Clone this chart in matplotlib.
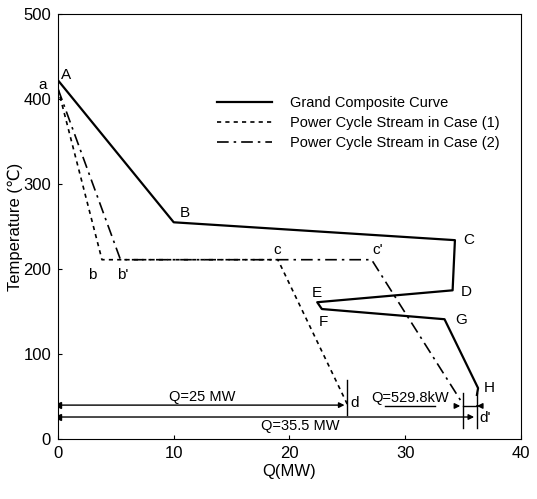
import matplotlib
matplotlib.use('Agg')
import matplotlib.pyplot as plt

plt.rcParams['font.family'] = ['Liberation Sans', 'DejaVu Sans']

# grand composite curve A..H
gcc_q = [0, 10, 34.3, 34.1, 22.4, 22.8, 33.4, 36.3, 36.2]
gcc_t = [422, 255, 234, 175, 161, 153, 141, 60, 52]

# power cycle stream, case (1): a -> b -> c -> d
case1_q = [0, 3.8, 19.0, 25.0]
case1_t = [412, 211, 211, 41]

# power cycle stream, case (2): a -> b' -> c' -> d'
case2_q = [0, 5.4, 27.1, 35.0]
case2_t = [412, 211, 211, 41]

# point labels
labels = ['A', 'a', 'B', 'C', 'D', 'E', 'F', 'G', 'H', 'b', "b'", 'c', "c'", 'd', "d'"]
label_q = [0.7, -1.3, 11.0, 35.5, 35.3, 22.4, 22.9, 34.8, 37.3, 3.0, 5.6, 18.9, 27.6, 25.6, 36.9]
label_t = [428, 416, 266, 234, 173, 172, 138, 140, 60, 193, 193, 222, 222, 43, 25]

# heat duty bars
q_case1 = 25.0
q_total = 36.2
q_diff = [35.0, 36.2]
t_bar1 = 40
t_bar2 = 26
t_bar3 = 39

fig = plt.figure(figsize=(5.37, 4.99), dpi=100)
ax = fig.add_axes([0.108, 0.12, 0.862, 0.852])

ax.plot(gcc_q, gcc_t, color='black', lw=1.6, label='Grand Composite Curve')
ax.plot(case1_q, case1_t, color='black', lw=1.2, linestyle=(0, (2.5, 2.5)),
        label='Power Cycle Stream in Case (1)')
ax.plot(case2_q, case2_t, color='black', lw=1.2, linestyle=(0, (7, 3, 1.5, 3)),
        label='Power Cycle Stream in Case (2)')

for s, x, y in zip(labels, label_q, label_t):
    ax.text(x, y, s, fontsize=11, ha='center', va='center')

arrow = dict(arrowstyle='-|>', color='black', lw=1.0, mutation_scale=8)
ax.annotate('', xy=(q_case1, t_bar1), xytext=(0, t_bar1), arrowprops=arrow)
ax.annotate('', xy=(q_total, t_bar2), xytext=(0, t_bar2), arrowprops=arrow)
ax.plot([0], [t_bar1], marker='<', color='black', ms=4)
ax.plot([0], [t_bar2], marker='<', color='black', ms=4)
ax.text(q_case1 / 2, t_bar1 + 1, 'Q=25 MW', fontsize=10.5, ha='center', va='bottom')
ax.text(20.9, t_bar2 - 2, 'Q=35.5 MW', fontsize=10.5, ha='center', va='top')

# small bracket between d and d'
ax.plot([q_case1, q_case1], [70, 28], color='black', lw=1.0)
for xq in q_diff:
    ax.plot([xq, xq], [54, 13], color='black', lw=1.0)
ax.annotate('', xy=(q_diff[0], t_bar3), xytext=(34.1, t_bar3), arrowprops=arrow)
ax.annotate('', xy=(q_diff[1], t_bar3), xytext=(q_diff[1] + 0.01, t_bar3),
            arrowprops=arrow)
ax.plot([q_diff[0], q_diff[1]], [t_bar3, t_bar3], color='black', lw=1.0)
ax.plot([28.3, 32.6], [t_bar3, t_bar3], color='black', lw=1.0)
ax.text(30.4, t_bar3 + 1, 'Q=529.8kW', fontsize=10.5, ha='center', va='bottom')

ax.set_xlim(0, 40)
ax.set_ylim(0, 500)
ax.set_xticks([0, 10, 20, 30, 40])
ax.set_yticks([0, 100, 200, 300, 400, 500])
ax.tick_params(direction='in', length=3, labelsize=12, pad=5)
ax.set_xlabel('Q(MW)', fontsize=12, labelpad=2)
ax.set_ylabel('Temperature (\u2103)', fontsize=12, labelpad=0)

ax.legend(loc='upper left', bbox_to_anchor=(0.315, 0.838), frameon=False,
          fontsize=10.5, handlelength=3.8, handletextpad=1.2, labelspacing=0.4)

fig.savefig('out.png', dpi=100)
